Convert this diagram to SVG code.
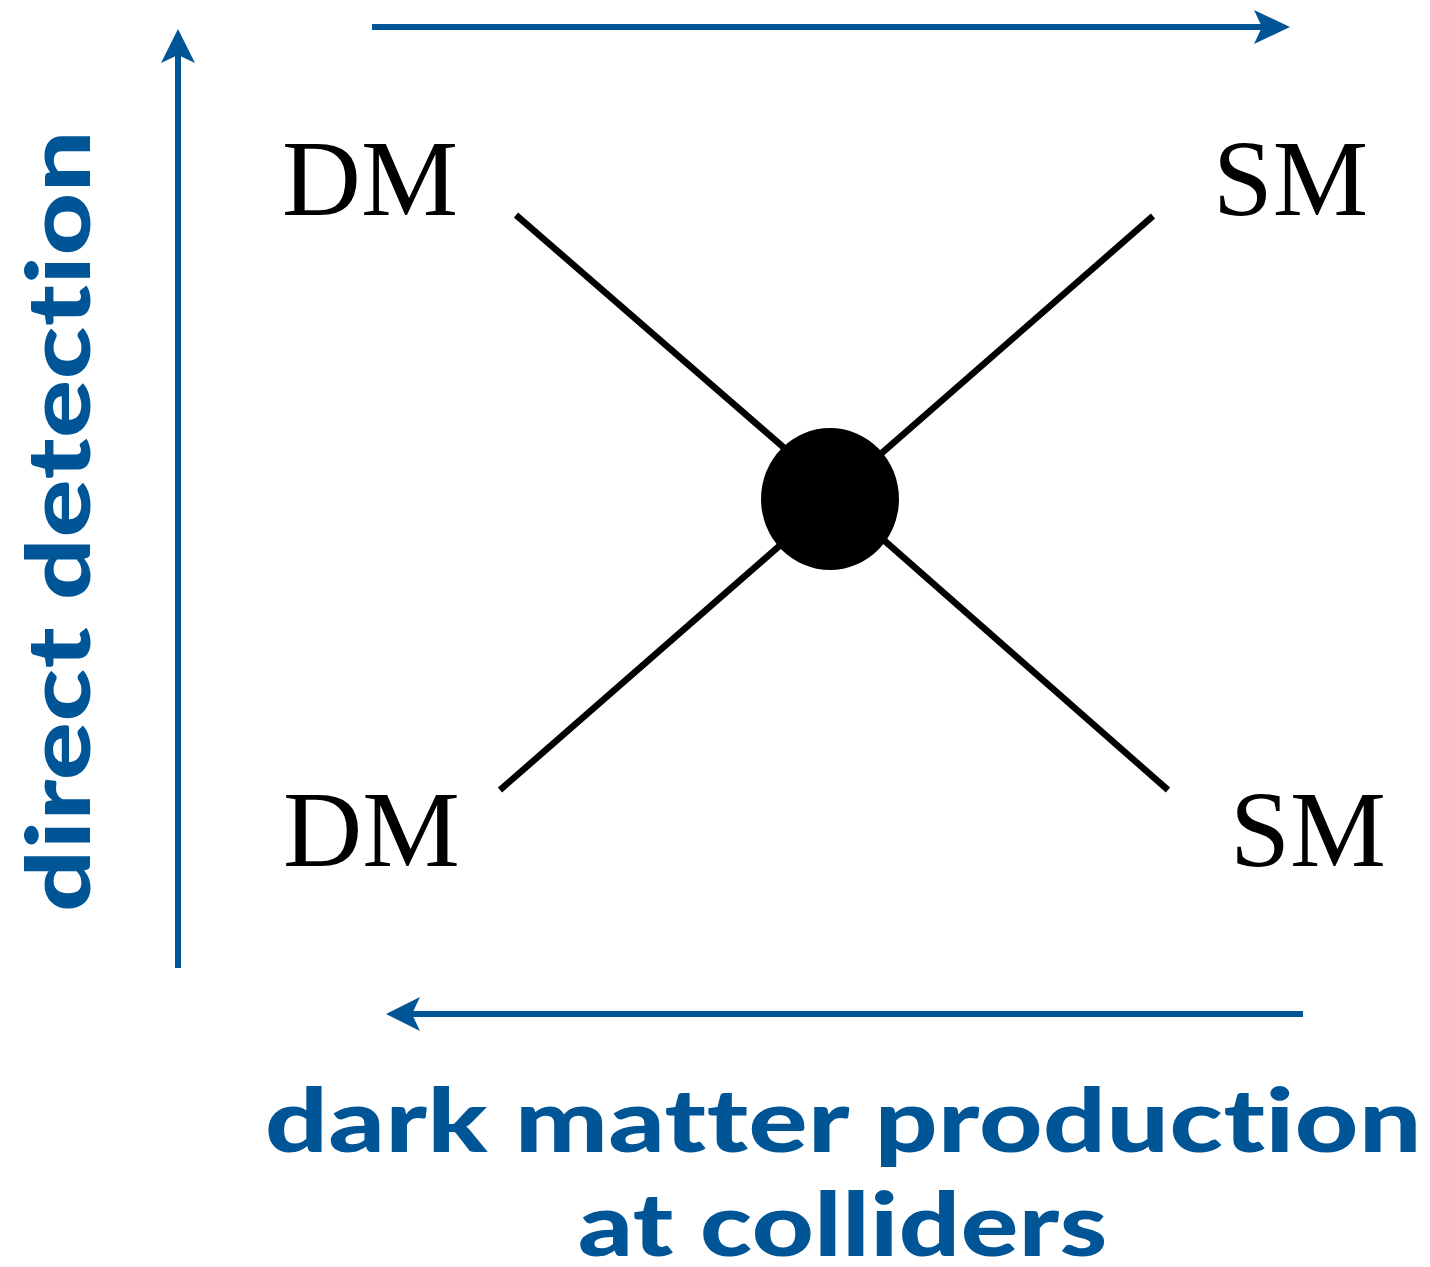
<svg xmlns="http://www.w3.org/2000/svg" width="1430" height="1267" viewBox="0 0 1430 1267">
<defs>
<style>
.ax{stroke:#005596;stroke-width:6;fill:none}
.ah{fill:#005596}
.ln{stroke:#000;stroke-width:6.5;fill:none}
.lbl{font-family:"Liberation Serif","Times New Roman",serif;font-size:108px;fill:#000}
.ttl{font-family:Lato,"Open Sans",sans-serif;font-weight:900;font-size:88px;fill:#005596;letter-spacing:0.5px;font-variant-ligatures:none;font-feature-settings:"liga" 0,"dlig" 0,"clig" 0}
</style>
</defs>
<rect width="1430" height="1267" fill="#fff"/>
<g id="axes">
<g id="arrow-top"><line class="ax" x1="372" y1="27" x2="1270" y2="27"/><path class="ah" d="M1290,27 L1254,10 L1262,27 L1254,44 Z"/></g>
<g id="arrow-left"><line class="ax" x1="178" y1="968" x2="178" y2="50"/><path class="ah" d="M178,29 L161,63 L178,55 L195,63 Z"/></g>
<g id="arrow-bottom"><line class="ax" x1="1303" y1="1014" x2="405" y2="1014"/><path class="ah" d="M386,1014 L420,997 L412,1014 L420,1031 Z"/></g>
</g>
<g id="connectors">
<line class="ln" x1="516" y1="215" x2="790" y2="453"/>
<line class="ln" x1="1153" y1="216" x2="875" y2="459"/>
<line class="ln" x1="500" y1="790" x2="785" y2="541"/>
<line class="ln" x1="1168" y1="790" x2="878" y2="535"/>
</g>
<g id="vertex"><ellipse cx="830" cy="499" rx="69" ry="71" fill="#000"/></g>
<g id="dm-top"><text class="lbl" x="282" y="215" textLength="176" lengthAdjust="spacingAndGlyphs">DM</text></g>
<g id="sm-top"><text class="lbl" x="1213" y="215" textLength="155" lengthAdjust="spacingAndGlyphs">SM</text></g>
<g id="dm-bottom"><text class="lbl" x="283" y="866" textLength="177" lengthAdjust="spacingAndGlyphs">DM</text></g>
<g id="sm-bottom"><text class="lbl" x="1230" y="866" textLength="156" lengthAdjust="spacingAndGlyphs">SM</text></g>
<g id="label-direct"><text class="ttl" transform="translate(90,912) rotate(-90)" x="0" y="0" textLength="782" lengthAdjust="spacingAndGlyphs">direct detection</text></g>
<g id="label-collider">
<text class="ttl" x="265" y="1152" textLength="1157" lengthAdjust="spacingAndGlyphs">dark matter production</text>
<text class="ttl" x="578" y="1256" textLength="530" lengthAdjust="spacingAndGlyphs">at colliders</text>
</g>
</svg>
